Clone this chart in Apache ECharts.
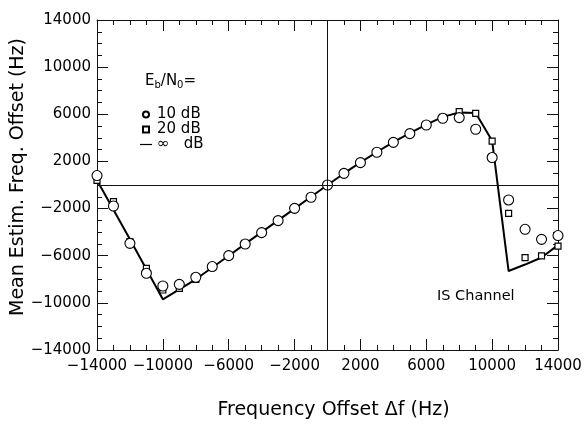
<!DOCTYPE html>
<html>
<head>
<meta charset="utf-8">
<script src="https://cdn.jsdelivr.net/npm/echarts@6/dist/echarts.min.js"></script>
<style>
html, body { margin: 0; background: #fff; }
#chart { width: 585px; height: 431px; }
</style>
</head>
<body>
<div id="chart"></div>
<script>
// frequency offsets (Hz), one point every 1000 Hz
var freqOffsets = [-14000, -13000, -12000, -11000, -10000, -9000, -8000, -7000, -6000, -5000,
    -4000, -3000, -2000, -1000, 0, 1000, 2000, 3000, 4000, 5000,
    6000, 7000, 8000, 9000, 10000, 11000, 12000, 13000, 14000];
// Eb/N0 = 10 dB (circles)
var est10dB = [800, -1780, -4950, -7490, -8570, -8430, -7830, -6920, -5990, -5010,
    -4040, -3020, -1980, -1040, 0, 990, 1900, 2780, 3620, 4360,
    5090, 5660, 5720, 4730, 2330, -1270, -3760, -4610, -4290];
// Eb/N0 = 20 dB (squares)
var est20dB = [400, -1410, -4800, -7070, -8910, -8770, -8000, -7000, -6000, -5000,
    -4000, -3000, -2000, -1000, 0, 980, 1920, 2800, 3640, 4400,
    5120, 5750, 6230, 6080, 3730, -2400, -6160, -6020, -5180];
// Eb/N0 = infinity (solid line)
var estInf = [400, -2100, -4600, -7150, -9700, -8850, -8000, -7000, -6000, -5000,
    -4000, -3000, -2000, -1000, 0, 980, 1920, 2800, 3640, 4400,
    5120, 5780, 6150, 6100, 3750, -7300, -6750, -6150, -5100];
var tickValues = [-14000, -10000, -6000, -2000, 2000, 6000, 10000, 14000];

var font = 'DejaVu Sans';
var ink = '#111';

function pairs(ys) {
    return freqOffsets.map(function (x, i) { return [x, ys[i]]; });
}
function minus(v) {
    return String(v).replace('-', '\u2212');
}

// axis with the minor ticks (every 1000)
function minorAxis(pos, showLabel) {
    return {
        type: 'value',
        position: pos,
        min: -14000,
        max: 14000,
        interval: 1000,
        axisLine: { show: true, onZero: false, lineStyle: { color: ink, width: 1 } },
        axisTick: { show: true, inside: true, length: 5, lineStyle: { color: ink } },
        axisLabel: showLabel ? {
            show: true,
            customValues: tickValues,
            formatter: minus,
            color: '#000',
            fontFamily: font,
            fontSize: 15,
            margin: 6
        } : { show: false },
        splitLine: { show: false }
    };
}
// same scale, only the long ticks
function majorAxis(pos) {
    return {
        type: 'value',
        position: pos,
        min: -14000,
        max: 14000,
        interval: 1000,
        axisLine: { show: false, onZero: false },
        axisTick: { show: true, inside: true, length: 11, customValues: tickValues, lineStyle: { color: ink } },
        axisLabel: { show: false },
        splitLine: { show: false }
    };
}

var xBottom = minorAxis('bottom', true);
xBottom.axisLabel.margin = 9;
xBottom.name = 'Frequency Offset \u0394f (Hz)';
xBottom.nameLocation = 'middle';
xBottom.nameGap = 51;
xBottom.nameMoveOverlap = false;
xBottom.nameTextStyle = { fontFamily: font, fontSize: 19, color: '#000', padding: [0, 0, 0, 12] };

var yLeft = minorAxis('left', true);
yLeft.name = 'Mean Estim. Freq. Offset (Hz)';
yLeft.nameLocation = 'middle';
yLeft.nameGap = 69;
yLeft.nameMoveOverlap = false;
yLeft.nameTextStyle = { fontFamily: font, fontSize: 19, color: '#000', padding: [0, 0, 0, 16] };

var myChart = echarts.init(document.getElementById('chart'));
option = {
    backgroundColor: '#fff',
    animation: false,
    grid: { left: 97, right: 27, top: 20, bottom: 81, outerBoundsMode: 'none', containLabel: false },
    xAxis: [xBottom, majorAxis('bottom'), minorAxis('top', false), majorAxis('top')],
    yAxis: [yLeft, majorAxis('left'), minorAxis('right', false), majorAxis('right')],
    legend: {
        orient: 'vertical',
        left: 140,
        top: 107,
        padding: 0,
        itemGap: 0,
        itemWidth: 12,
        itemHeight: 6,
        textStyle: { fontFamily: font, fontSize: 15, color: '#000', lineHeight: 15 },
        data: [
            { name: '10 dB', icon: 'circle' },
            { name: '20 dB', icon: 'path://M0,0H10V10H0Z' },
            { name: '\u221e   dB', icon: 'path://M0,0H20V2H0Z' }
        ]
    },
    graphic: [
        {
            type: 'text',
            left: 145,
            top: 72,
            style: {
                text: '{n|E}{s|b}{n|/N}{s|0}{n|=}',
                rich: {
                    n: { fontFamily: font, fontSize: 15, fill: '#000', verticalAlign: 'top', lineHeight: 16 },
                    s: { fontFamily: font, fontSize: 10, fill: '#000', verticalAlign: 'bottom', lineHeight: 10, padding: [8, 0, 0, 0] }
                }
            }
        },
        {
            type: 'text',
            left: 437,
            top: 289,
            style: { text: 'IS Channel', fontFamily: font, fontSize: 14.5, fill: '#000' }
        }
    ],
    series: [
        {
            name: '\u221e   dB',
            type: 'line',
            data: pairs(estInf),
            showSymbol: false,
            lineStyle: { color: '#000', width: 2 },
            itemStyle: { color: '#000' },
            z: 2,
            markLine: {
                silent: true,
                symbol: 'none',
                label: { show: false },
                lineStyle: { color: ink, width: 1, type: 'solid' },
                data: [{ xAxis: 0 }, { yAxis: 0 }]
            }
        },
        {
            name: '20 dB',
            type: 'scatter',
            data: pairs(est20dB),
            symbol: 'rect',
            symbolSize: 6,
            itemStyle: { color: '#fff', borderColor: '#000', borderWidth: 1.2, opacity: 1 },
            z: 3
        },
        {
            name: '10 dB',
            type: 'scatter',
            data: pairs(est10dB),
            symbol: 'circle',
            symbolSize: 10,
            itemStyle: { color: '#fff', borderColor: '#000', borderWidth: 1.1, opacity: 1 },
            z: 4
        }
    ]
};
myChart.setOption(option);
</script>
</body>
</html>
